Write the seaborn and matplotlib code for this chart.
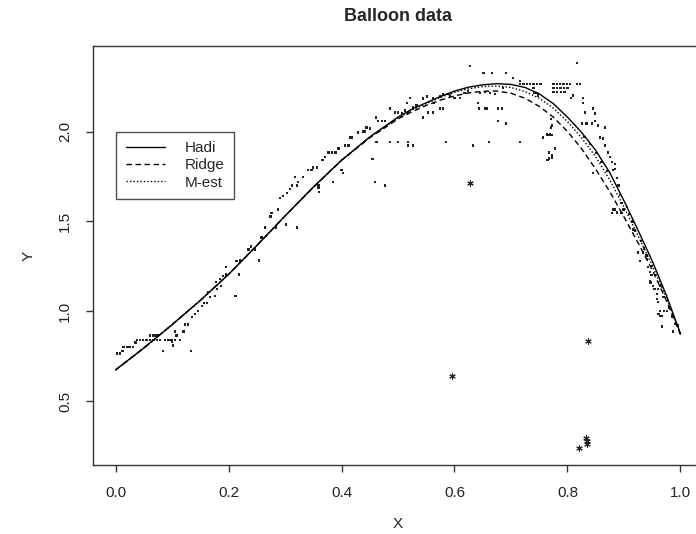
import numpy as np
import pandas as pd
import matplotlib
matplotlib.use("Agg")
import matplotlib.pyplot as plt
import seaborn as sns

dots = [
    # left flat steps
    (0.003, 0.765), (0.008, 0.765), (0.012, 0.78), (0.014, 0.80), (0.020, 0.80),
    (0.025, 0.80), (0.031, 0.80), (0.035, 0.825), (0.038, 0.84), (0.043, 0.84),
    (0.049, 0.84), (0.055, 0.84), (0.061, 0.84), (0.067, 0.84), (0.073, 0.84),
    (0.079, 0.84), (0.061, 0.864), (0.066, 0.864), (0.071, 0.864), (0.075, 0.864),
    (0.088, 0.84), (0.094, 0.84), (0.099, 0.84), (0.105, 0.84), (0.105, 0.886),
    (0.108, 0.864), (0.114, 0.84), (0.084, 0.78), (0.100, 0.83), (0.102, 0.81),
    (0.133, 0.78), (0.120, 0.886), (0.123, 0.925), (0.128, 0.925), (0.135, 0.969),
    (0.141, 0.985), (0.146, 1.0), (0.153, 1.03), (0.157, 1.046), (0.162, 1.046),
    # rising part
    (0.164, 1.107), (0.167, 1.078), (0.176, 1.085), (0.180, 1.123), (0.187, 1.14),
    (0.212, 1.085), (0.178, 1.162), (0.185, 1.178), (0.190, 1.195), (0.196, 1.205),
    (0.196, 1.245), (0.219, 1.205), (0.214, 1.278), (0.220, 1.283), (0.235, 1.344),
    (0.240, 1.36), (0.247, 1.344), (0.254, 1.283), (0.258, 1.41), (0.265, 1.465),
    (0.274, 1.526), (0.276, 1.548), (0.288, 1.565), (0.284, 1.465), (0.302, 1.482),
    (0.321, 1.465),
    (0.291, 1.631), (0.296, 1.64), (0.304, 1.658), (0.309, 1.68), (0.312, 1.70),
    (0.321, 1.70), (0.318, 1.746), (0.323, 1.72), (0.332, 1.746), (0.341, 1.785),
    (0.347, 1.785), (0.350, 1.80), (0.357, 1.80), (0.359, 1.70), (0.359, 1.686),
    (0.360, 1.664), (0.366, 1.84), (0.371, 1.857), (0.377, 1.884), (0.383, 1.884),
    (0.389, 1.884), (0.395, 1.906), (0.406, 1.923), (0.412, 1.923), (0.400, 1.785),
    (0.403, 1.768), (0.385, 1.72), (0.415, 1.967), (0.418, 1.967), (0.429, 1.995),
    (0.438, 2.0), (0.442, 2.0), (0.444, 2.022), (0.450, 2.017), (0.461, 2.077),
    (0.465, 2.06), (0.472, 2.06), (0.477, 2.06), (0.486, 2.127), (0.495, 2.105),
    (0.500, 2.105), (0.507, 2.10), (0.512, 2.116), (0.518, 2.105), (0.516, 2.16),
    (0.521, 2.188), (0.527, 2.133), (0.533, 2.144), (0.544, 2.183), (0.551, 2.194),
    (0.562, 2.188), (0.564, 2.16), (0.574, 2.194), (0.580, 2.21), (0.587, 2.21),
    (0.592, 2.20), (0.600, 2.188), (0.610, 2.188), (0.618, 2.215), (0.624, 2.226),
    (0.627, 2.364),
    (0.462, 1.94), (0.455, 1.846), (0.459, 1.72), (0.477, 1.70), (0.486, 1.94),
    (0.500, 1.94), (0.518, 1.94), (0.518, 1.923), (0.527, 1.923), (0.544, 2.077),
    (0.553, 2.105), (0.562, 2.105), (0.574, 2.127), (0.580, 2.127), (0.585, 1.94),
    (0.633, 1.923),
    # plateau
    (0.651, 2.326), (0.666, 2.326), (0.691, 2.326), (0.704, 2.298), (0.716, 2.28),
    (0.716, 2.265), (0.722, 2.265), (0.728, 2.265), (0.734, 2.265), (0.740, 2.265),
    (0.746, 2.265), (0.752, 2.265), (0.775, 2.265), (0.781, 2.265), (0.787, 2.265),
    (0.793, 2.265), (0.799, 2.265), (0.805, 2.265), (0.775, 2.243), (0.781, 2.243),
    (0.788, 2.243), (0.794, 2.243), (0.800, 2.243), (0.775, 2.22), (0.782, 2.22),
    (0.789, 2.22), (0.795, 2.22), (0.817, 2.265), (0.822, 2.265), (0.817, 2.38),
    (0.686, 2.243), (0.740, 2.243), (0.742, 2.215), (0.746, 2.215), (0.748, 2.20),
    (0.806, 2.188), (0.810, 2.20), (0.645, 2.215), (0.654, 2.22), (0.663, 2.215),
    (0.672, 2.21), (0.642, 2.16), (0.643, 2.127), (0.654, 2.127), (0.658, 2.127),
    (0.677, 2.127), (0.684, 2.127), (0.677, 2.06), (0.691, 2.044), (0.716, 1.94),
    (0.661, 1.94), (0.757, 1.967), (0.764, 1.984), (0.769, 1.984), (0.771, 2.07),
    (0.771, 2.022), (0.767, 1.884), (0.773, 1.868), (0.778, 1.906), (0.765, 1.84),
    (0.828, 2.188), (0.831, 2.105), (0.845, 2.127), (0.849, 2.10), (0.826, 2.044),
    (0.834, 2.044), (0.843, 2.044), (0.849, 2.06), (0.854, 2.033), (0.866, 2.022),
    (0.858, 1.967), (0.863, 1.96), (0.866, 1.923), (0.872, 1.884), (0.875, 1.857),
    (0.879, 1.83), (0.881, 1.785), (0.845, 1.768), (0.888, 1.74), (0.890, 1.70),
    (0.893, 1.647), (0.896, 1.603), (0.899, 1.565), (0.881, 1.565), (0.888, 1.55),
    (0.827, 2.16), (0.884, 1.82), (0.884, 1.79), (0.773, 2.033), (0.773, 1.98),
    (0.765, 1.98), (0.767, 1.85), (0.773, 1.855),
    (0.830, 1.97), (0.840, 1.93), (0.850, 1.88), (0.860, 1.83), (0.870, 1.78),
    # steep drop
    (0.879, 1.548), (0.884, 1.565), (0.896, 1.548), (0.916, 1.454), (0.925, 1.327),
    (0.928, 1.278), (0.934, 1.327), (0.941, 1.29), (0.943, 1.245), (0.946, 1.217),
    (0.949, 1.20), (0.946, 1.167), (0.951, 1.14), (0.954, 1.123), (0.960, 1.123),
    (0.958, 1.096), (0.958, 1.068), (0.960, 1.05), (0.964, 1.0), (0.961, 0.985),
    (0.964, 0.974), (0.967, 0.974), (0.971, 1.0), (0.976, 1.0), (0.967, 0.914),
    (0.987, 0.886), (0.996, 0.92), (0.947, 1.16),
    (0.905, 1.58), (0.910, 1.54), (0.915, 1.50), (0.920, 1.45), (0.930, 1.39),
    (0.935, 1.35), (0.940, 1.31), (0.950, 1.25), (0.955, 1.20), (0.965, 1.14),
    (0.970, 1.08), (0.980, 1.02), (0.985, 0.97), (0.990, 0.93),
]

# outliers drawn as stars
star_x = [0.627, 0.596, 0.836, 0.833, 0.835, 0.835, 0.820]
star_y = [1.713, 0.638, 0.836, 0.296, 0.275, 0.263, 0.240]

curve_x = [0.0, 0.05, 0.1, 0.15, 0.2, 0.25, 0.3, 0.35, 0.4, 0.45,
           0.5, 0.525, 0.55, 0.575, 0.6, 0.625, 0.65, 0.675, 0.7, 0.725,
           0.75, 0.775, 0.8, 0.825, 0.85, 0.875, 0.9, 0.925, 0.95, 0.975, 1.0]
hadi_y = [0.673, 0.795, 0.925, 1.06, 1.205, 1.365, 1.53, 1.69, 1.84, 1.97,
          2.08, 2.125, 2.16, 2.195, 2.225, 2.247, 2.26, 2.266, 2.262, 2.245,
          2.21, 2.155, 2.08, 1.995, 1.895, 1.77, 1.615, 1.45, 1.28, 1.09, 0.875]
ridge_y = [0.673, 0.795, 0.925, 1.06, 1.205, 1.365, 1.53, 1.69, 1.84, 1.965,
           2.07, 2.11, 2.145, 2.175, 2.198, 2.215, 2.224, 2.225, 2.213, 2.185,
           2.14, 2.08, 2.0, 1.905, 1.79, 1.665, 1.525, 1.38, 1.23, 1.06, 0.87]
mest_y = [0.673, 0.795, 0.925, 1.06, 1.205, 1.365, 1.53, 1.69, 1.84, 1.968,
          2.075, 2.12, 2.155, 2.19, 2.218, 2.238, 2.25, 2.253, 2.245, 2.222,
          2.185, 2.13, 2.055, 1.965, 1.86, 1.73, 1.58, 1.42, 1.255, 1.075, 0.875]

x_ticks = [0.0, 0.2, 0.4, 0.6, 0.8, 1.0]
y_ticks = [0.5, 1.0, 1.5, 2.0]

dots_df = pd.DataFrame(dots, columns=["X", "Y"])
stars_df = pd.DataFrame({"X": star_x, "Y": star_y})
n = len(curve_x)
fits = pd.DataFrame({"X": curve_x * 3,
                     "Y": hadi_y + ridge_y + mest_y,
                     "fit": ["Hadi"] * n + ["Ridge"] * n + ["M-est"] * n})

sns.set_style("white")
plt.rcParams["font.family"] = ["Liberation Sans", "DejaVu Sans"]

fig = plt.figure(figsize=(6.96, 5.34), dpi=100)
ax = fig.add_axes([0.1336, 0.1292, 0.8765, 0.7847])

sns.scatterplot(data=dots_df, x="X", y="Y", ax=ax, marker="s", s=3,
                color="#222222", edgecolor="none", linewidth=0)
sns.scatterplot(data=stars_df, x="X", y="Y", ax=ax, marker=(6, 2, 0), s=16,
                color="#222222", linewidth=0.8)
sns.lineplot(data=fits, x="X", y="Y", style="fit", ax=ax, color="black",
             linewidth=1.0, estimator=None, sort=False,
             dashes={"Hadi": "", "Ridge": (4, 2.5), "M-est": (1, 1.5)})

ax.set_xlim(-0.04, 1.04)
ax.set_ylim(0.144, 2.476)
ax.set_xticks(x_ticks)
ax.set_xticklabels([f"{v:.1f}" for v in x_ticks])
ax.set_yticks(y_ticks)
ax.set_yticklabels([f"{v:.1f}" for v in y_ticks], rotation=90, va="center")
ax.tick_params(axis="both", direction="out", length=5, width=1, color="#333333",
               labelsize=11, labelcolor="#222222", pad=10, bottom=True, left=True)
for sp in ax.spines.values():
    sp.set_color("#333333")
    sp.set_linewidth(1.0)

ax.set_xlabel("X", fontsize=11, color="#222222", labelpad=12)
ax.set_ylabel("Y", fontsize=11, color="#222222", labelpad=16)
fig.suptitle("Balloon data", fontsize=13, fontweight="bold", x=0.572, y=0.985, va="top")

leg = ax.legend(loc="upper left", bbox_to_anchor=(0.0, 2.0), bbox_transform=ax.transData,
                borderaxespad=0, fontsize=11, handlelength=2.6, handletextpad=1.25,
                labelspacing=0.2, borderpad=0.65, fancybox=False, frameon=True)
leg.get_frame().set_edgecolor("#222222")
leg.get_frame().set_linewidth(1.0)
for line in leg.get_lines():
    line.set_color("black")
    line.set_linewidth(1.0)

fig.savefig("out.png", dpi=100)
